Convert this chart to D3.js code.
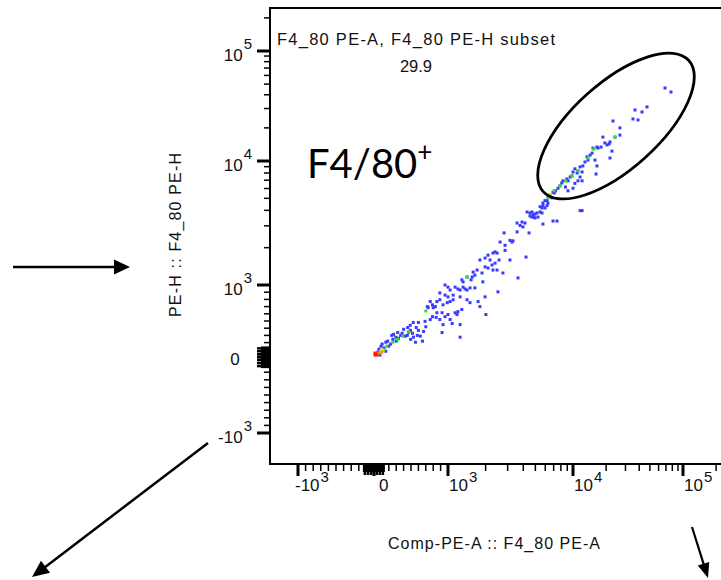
<!DOCTYPE html>
<html><head><meta charset="utf-8">
<script src="https://cdn.jsdelivr.net/npm/d3@7"></script>
<style>html,body{margin:0;padding:0;background:#fff;} svg{display:block;}</style>
</head><body><svg id="c" width="721" height="580"></svg>
<script>
// ---------------- data ----------------
const majorTicks = [-1000, 0, 1000, 10000, 100000];
const tickBase = ["-10", "0", "10", "10", "10"];
const tickExp  = ["3", "", "3", "4", "5"];
const gateLabel = "F4_80 PE-A, F4_80 PE-H subset";
const gatePercent = "29.9";
const populationLabel = "F4/80";
const xTitle = "Comp-PE-A :: F4_80 PE-A";
const yTitle = "PE-H :: F4_80 PE-H";
const gateCenter = [24600, 20800];

const bluePoints = [
[11600,3980],[6920,3280],[7450,3280],[5750,3100],[5970,4180],[6310,4580],[6200,4790],[5750,4370],[5450,3880],[5650,3810],
[4290,3880],[4530,3810],[4700,3530],[4790,3670],[4970,3470],[5150,3810],[5250,3530],
[3570,3160],[3770,3020],[3980,2940],[3910,3220],[4130,3160],[4450,2630],[2810,2630],[3570,2680],
[3130,2290],[3250,2220],[3310,2270],[2610,2220],[2860,2090],
[2380,1850],[2470,1810],[2290,1810],[2860,1900],
[2090,1740],[1980,1650],[1800,1590],
[2170,1590],[2380,1500],[2560,1590],[3130,1590],[4210,1680],
[1980,1400],[2250,1450],[2470,1320],
[1710,1320],[1590,1270],[1640,1200],
[1870,1250],[2090,1370],[2290,1320],[2750,1250],
[1420,1160],[1290,1100],[1320,1060],[1530,1100],[1560,1160],[3630,1140],[1900,1060],
[1320,970],[1370,945],[1420,930],[1500,960],[1640,960],
[1140,970],[1200,945],[1250,930],
[960,1000],[1000,970],[1040,930],
[890,890],[960,860],[1000,835],[1100,860],[1250,835],[1420,795],[2510,905],[1980,835],
[760,770],[790,725],[830,700],[800,685],[850,770],[890,795],
[933,725],[990,755],[1040,770],[1100,795],[720,700],[733,685],
[1290,660],[1200,630],[1140,615],[1180,590],
[1500,755],[1740,770],[1800,700],[2010,590],
[850,615],[920,615],[960,560],[1000,590],[1040,520],
[790,560],[840,550],[890,520],
[933,450],[1080,465],[1250,450],
[530,480],[600,480],[570,410],[490,440],[690,495],[670,355],[920,340],[1250,275],
[400,385],[455,410],[493,370],[467,343],
[265,315],[320,340],[360,300],[295,275],
[425,290],[495,245],[560,205],[533,275],[585,300],
[625,290],[655,220],
[185,220],[225,180],[255,245],[160,205],
[67,110],[95,150],[135,125],[160,80],
[27,40],[53,70],[80,27],
[110,180],[200,150],[240,300],[330,260],[300,220],[380,330],[450,300],[520,330],[600,370],[700,420],[760,520],
[68600,46100],[77800,42400],[36600,29100],[42400,27900],[47100,31000],[35100,24100],[39000,23600],[23100,23100],[26700,20000],[24100,16500],[26700,17200],[18700,16500],
[19500,14600],[20400,14000],[21300,14300],[21700,14900],[16900,13100],[18000,13400],[15200,13100],[16500,13400],[22600,12300],[21700,10650],
[13400,10900],[14300,11300],[14900,11800],[13700,10200],[12850,9820],[12300,9120],[15850,10200],[16500,9120],
[11600,8960],[11100,8320],[12100,8150],[10400,8650],[10000,8150],
[10900,8000],[9820,7590],[9500,7430],[9120,6920],[8930,7170],[16200,7850],
[11600,7430],[11100,6920],[10400,6600],[12100,6920],
[8320,6920],[8130,6650],[7870,6310],[8710,6170],
[7590,6030],[7260,5750],[6920,5600],[7090,5520],[9120,5750],[10000,6030],
[6550,5250],[6310,5140],[6790,5040],
[5970,4790],[5750,4580],[6200,4370],[5450,4280],[5650,4180],
[4700,3880],[4970,3740],[4530,3600],[4880,3530],[12100,3980]
];
const greenPoints = [[1420,1160],[320,245],[387,290],[467,355],[253,205],[173,150],[133,95],[700,640],
[24100,16500],[15500,12800],[13700,10650],[11100,8320],[9820,7590],[8790,6900],[7870,6310],[7050,5750],[6310,5040]];
const yellowPoints = [[93,82],[120,96],[6550,5390]];
const orangePoints = [[67,55],[40,41],[107,68]];
const redPoints = [[13,27],[27,41],[13,55],[40,27]];

// ---------------- scales (biexponential-like display) ----------------
function decade(v){ const a = Math.abs(v); return a <= 1000 ? v/1000 : Math.sign(v)*(Math.log10(a)-2); }
const xLin = d3.scaleLinear().domain([-1,0,1,2,3]).range([298,374,448,573,683]);
const yLin = d3.scaleLinear().domain([-1,0,1,2,3]).range([433,357,285,161,51]);
const x = v => xLin(decade(v));
const y = v => yLin(decade(v));

const frame = {left:270, top:8, right:730, bottom:464};
const svg = d3.select("#c");
const font = "'Liberation Sans', Arial, sans-serif";

// minor ticks
const minorTicks = [].concat(
  d3.range(-900,0,100), d3.range(100,1000,100),
  d3.range(2000,10000,1000), d3.range(20000,100000,10000), [200000]);
const zeroTicks = d3.range(-130,140,10);

// ---------------- points ----------------
const ps = 3;
function drawPts(arr, color){
  svg.append("g").selectAll("rect").data(arr).join("rect")
    .attr("x", d => x(d[0]) - ps/2).attr("y", d => y(d[1]) - ps/2)
    .attr("width", ps).attr("height", ps).attr("fill", color);
}
drawPts(bluePoints, "#3a3aff");
drawPts(greenPoints, "#30e030");
drawPts(yellowPoints, "#e6e600");
drawPts(orangePoints, "#ff9000");
drawPts(redPoints, "#ff2000");

// ---------------- frame ----------------
svg.append("path")
  .attr("d", `M${frame.right},${frame.top}H${frame.left}V${frame.bottom}H${frame.right}`)
  .attr("fill","none").attr("stroke","#000").attr("stroke-width",2);

// ---------------- x axis ticks ----------------
const gx = svg.append("g");
gx.selectAll(".mn").data(minorTicks).join("line")
  .attr("x1", d=>x(d)).attr("x2", d=>x(d)).attr("y1", frame.bottom).attr("y2", frame.bottom+7)
  .attr("stroke","#000").attr("stroke-width",1.5);
gx.selectAll(".z").data(zeroTicks).join("line")
  .attr("x1", d=>x(d)).attr("x2", d=>x(d)).attr("y1", frame.bottom).attr("y2", d => frame.bottom + (Math.abs(d) % 40 === 0 ? 11 : 8))
  .attr("stroke","#000").attr("stroke-width",2.5);
gx.selectAll(".mj").data(majorTicks).join("line")
  .attr("x1", d=>x(d)).attr("x2", d=>x(d)).attr("y1", frame.bottom).attr("y2", frame.bottom+12)
  .attr("stroke","#000").attr("stroke-width",3);

// x tick labels
majorTicks.forEach((v,i)=>{
  const t = svg.append("text").attr("font-family",font).attr("fill","#111")
    .attr("y", 491).attr("font-size",17);
  let xx = x(v) + 1;
  if (tickBase[i].startsWith("-")) xx = x(v) - 3;
  if (tickExp[i] === "") xx = x(v) + 5;
  t.attr("x", xx).attr("text-anchor","start");
  t.append("tspan").text(tickBase[i]);
  if (tickExp[i]) t.append("tspan").attr("font-size",15).attr("dx",1).attr("dy",-9).text(tickExp[i]);
});

// ---------------- y axis ticks ----------------
const gy = svg.append("g");
gy.selectAll(".mn").data(minorTicks).join("line")
  .attr("y1", d=>y(d)).attr("y2", d=>y(d)).attr("x1", frame.left).attr("x2", frame.left-6)
  .attr("stroke","#000").attr("stroke-width",1.5);
gy.selectAll(".z").data(zeroTicks).join("line")
  .attr("y1", d=>y(d)).attr("y2", d=>y(d)).attr("x1", frame.left).attr("x2", d => frame.left - (Math.abs(d) % 40 === 0 ? 13 : 9))
  .attr("stroke","#000").attr("stroke-width",2.5);
gy.selectAll(".mj").data(majorTicks).join("line")
  .attr("y1", d=>y(d)).attr("y2", d=>y(d)).attr("x1", frame.left).attr("x2", frame.left-13)
  .attr("stroke","#000").attr("stroke-width",3);

majorTicks.forEach((v,i)=>{
  const t = svg.append("text").attr("font-family",font).attr("fill","#111")
    .attr("font-size",17);
  if (tickExp[i] === "") {
    t.attr("x", 235).attr("y", y(v)+8).attr("text-anchor","middle").text(tickBase[i]);
  } else {
    t.attr("x", 252).attr("y", y(v)+10).attr("text-anchor","end");
    t.append("tspan").text(tickBase[i]);
    t.append("tspan").attr("font-size",15).attr("dx",1).attr("dy",-12).text(tickExp[i]);
  }
});

// ---------------- axis titles ----------------
svg.append("text").attr("font-family",font).attr("font-size",16).attr("fill","#111")
  .attr("x", 388).attr("y", 549).attr("textLength",212).attr("lengthAdjust","spacing").text(xTitle);
svg.append("text").attr("font-family",font).attr("font-size",16).attr("fill","#111")
  .attr("transform","translate(181,317) rotate(-90)")
  .attr("textLength",164).attr("lengthAdjust","spacing").text(yTitle);

// ---------------- gate ----------------
svg.append("ellipse")
  .attr("cx", x(gateCenter[0])).attr("cy", y(gateCenter[1]))
  .attr("rx", 98).attr("ry", 43)
  .attr("transform", `rotate(-42 ${x(gateCenter[0])} ${y(gateCenter[1])})`)
  .attr("fill","none").attr("stroke","#000").attr("stroke-width",2.8);

svg.append("text").attr("font-family",font).attr("font-size",16.5).attr("fill","#111")
  .attr("x", 277).attr("y", 45).attr("textLength",278).attr("lengthAdjust","spacing").text(gateLabel);
svg.append("text").attr("font-family",font).attr("font-size",16.5).attr("fill","#111")
  .attr("x", 416).attr("y", 72).attr("text-anchor","middle").text(gatePercent);

const pl = svg.append("text").attr("font-family","Lato, 'Open Sans', sans-serif").attr("font-size",40).attr("fill","#000")
  .attr("x", 307).attr("y", 178);
pl.append("tspan").text(populationLabel);
pl.append("tspan").attr("font-size",26).attr("dy",-17).text("+");

// ---------------- annotation arrows ----------------
const arrows = [
  {from:[13,267], to:[130,267], w:2.5, len:16, half:7.5},
  {from:[208,443], to:[32,577], w:2.5, len:17, half:7.5},
  {from:[692,527], to:[708,578], w:2.2, len:15, half:6}
];
arrows.forEach(a=>{
  const dx=a.to[0]-a.from[0], dy=a.to[1]-a.from[1], L=Math.hypot(dx,dy);
  const ux=dx/L, uy=dy/L;
  const bx=a.to[0]-ux*a.len, by=a.to[1]-uy*a.len;
  svg.append("line").attr("x1",a.from[0]).attr("y1",a.from[1]).attr("x2",bx+ux*2).attr("y2",by+uy*2)
    .attr("stroke","#000").attr("stroke-width",a.w);
  svg.append("path").attr("d",`M${a.to[0]},${a.to[1]}L${bx-uy*a.half},${by+ux*a.half}L${bx+uy*a.half},${by-ux*a.half}Z`)
    .attr("fill","#000");
});
</script></body></html>
